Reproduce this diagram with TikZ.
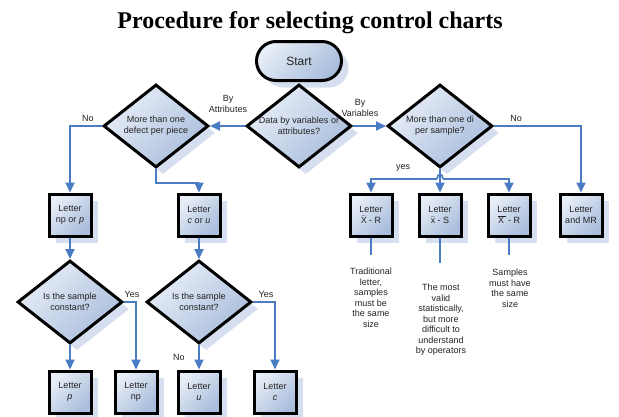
\documentclass[tikz,border=0pt]{standalone}
\usepackage{fontspec}
\setmainfont{Liberation Sans}
\newfontfamily\titlefont{Liberation Serif}
\usetikzlibrary{shapes.geometric, shapes.misc, arrows.meta, shadows}
\definecolor{flowblue}{HTML}{4A7CC4}
\definecolor{boxlight}{HTML}{E8EEF7}
\definecolor{boxdark}{HTML}{A9BDDC}
\definecolor{shadowblue}{HTML}{D6DFEF}
\definecolor{textgray}{HTML}{222222}

\begin{document}
\begin{tikzpicture}[x=1pt, y=1pt,
  chartshape/.style={draw=black, line width=3pt, top color=boxlight, bottom color=boxdark, shading angle=45,
    drop shadow={shadow xshift=7pt, shadow yshift=-7pt, fill=shadowblue, opacity=1},
    text=textgray, align=center, inner sep=0pt},
  terminal/.style={chartshape, rounded rectangle, minimum width=85pt, minimum height=39pt, font=\fontsize{12}{14}\selectfont},
  decision/.style={chartshape, diamond, aspect=1.26, minimum width=105pt, minimum height=83pt, font=\fontsize{9}{11}\selectfont},
  letterbox/.style={chartshape, rectangle, minimum width=42pt, minimum height=42pt, font=\fontsize{9}{11}\selectfont},
  flow/.style={draw=flowblue, line width=1.8pt, -{Triangle[length=10pt, width=9pt]}},
  link/.style={draw=flowblue, line width=1.8pt},
  tag/.style={font=\fontsize{9}{10.5}\selectfont, text=textgray, align=center, inner sep=0pt},
  note/.style={tag, anchor=north}]
\useasboundingbox (0,0) rectangle (619,-416);

% Title
\node[font=\titlefont\fontsize{24}{28}\selectfont\bfseries] (title) at (310,-23) {Procedure for selecting control charts};

% Start and decisions
\node[terminal] (start) at (299,-61) {Start};
\node[decision] (data) at (299,-126) {Data by variables or\\attributes?};
\node[decision] (defect) at (156,-126) {More than one\\defect per piece};
\node[decision] (persample) at (440,-126) {More than one di\\per sample?};
\node[decision] (sample1) at (70,-302) {Is the sample\\constant?};
\node[decision] (sample2) at (199,-302) {Is the sample\\constant?};

% Chart boxes
\node[letterbox] (npp) at (70,-215) {Letter\\np or \textit{p}};
\node[letterbox] (cu) at (199,-215) {Letter\\\textit{c} or \textit{u}};
\node[letterbox] (xbarr) at (371,-215) {Letter\\$\bar{\mbox{X}}$ - R};
\node[letterbox] (xbars) at (440,-215) {Letter\\$\bar{\mbox{x}}$ - S};
\node[letterbox] (xbarl) at (509,-215) {Letter\\$\overline{\mbox{X\,}}$ - R};
\node[letterbox] (mr) at (581,-215) {Letter\\and MR};
\node[letterbox] (p) at (70,-392) {Letter\\\textit{p}};
\node[letterbox] (np) at (136,-392) {Letter\\np};
\node[letterbox] (u) at (199,-392) {Letter\\\textit{u}};
\node[letterbox] (c) at (275,-392) {Letter\\\textit{c}};

% Labels
\node[tag] (byattr) at (228,-104) {By\\Attributes};
\node[tag] (byvar) at (360,-108) {By\\Variables};
\node[tag] (nodefect) at (88,-118) {No};
\node[tag] (nopersample) at (516,-118) {No};
\node[tag] (yesvar) at (403,-168) {yes};
\node[tag] (yes1) at (132,-294) {Yes};
\node[tag] (yes2) at (266,-294) {Yes};
\node[tag] (nosample) at (179,-357) {No};

% Notes
\node[note] (note1) at (371,-268) {Traditional\\letter,\\samples\\must be\\the same\\size};
\node[note] (note2) at (441,-284) {The most\\valid\\statistically,\\but more\\difficult to\\understand\\by operators};
\node[note] (note3) at (510,-269) {Samples\\must have\\the same\\size};

% Arrows
\draw[flow] (data.west) -- (defect.east);
\draw[flow] (data.east) -- (persample.west);
\draw[flow] (defect.west) -| (npp.north);
\draw[flow] (defect.south) -- ++(0,-14) -| (cu.north);
\draw[flow] (persample.east) -| (mr.north);
\draw[flow] (persample.south) -- (xbars.north);
\coordinate (hopl) at (437,-179);
\coordinate (hopr) at (443,-179);
\draw[flow] (hopl) -| (xbarr.north);
\draw[flow] (hopr) -| (xbarl.north);
\draw[link] (hopl) .. controls (437,-173) and (443,-173) .. (hopr);
\draw[flow] (npp.south) -- (sample1.north);
\draw[flow] (cu.south) -- (sample2.north);
\draw[flow] (sample1.south) -- (p.north);
\draw[flow] (sample1.east) -| (np.north);
\draw[flow] (sample2.south) -- (u.north);
\draw[flow] (sample2.east) -| (c.north);
\draw[link] (xbarr.south) -- ++(0,-17);
\draw[link] (xbars.south) -- ++(0,-25);
\draw[link] (xbarl.south) -- ++(0,-17);
\end{tikzpicture}
\end{document}
